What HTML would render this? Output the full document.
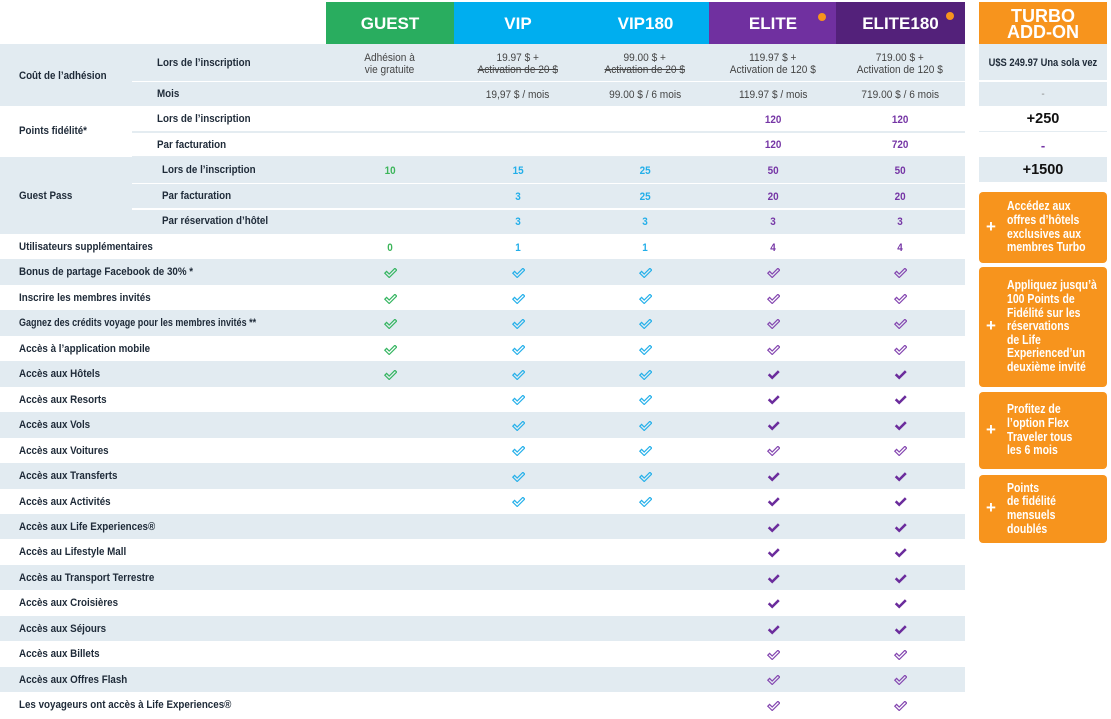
<!DOCTYPE html>
<html>
<head>
<meta charset="utf-8">
<style>
*{box-sizing:border-box}
body{margin:0;width:1111px;height:717px;overflow:hidden;background:#fff;font-family:"Liberation Sans",sans-serif;position:relative}
.a{position:absolute}
.sh{background:#e2ebf1}
.row{position:absolute;left:0;width:965px;height:25.5px}
.lb{position:absolute;left:19px;top:1px;line-height:25.5px;font-size:11px;font-weight:bold;color:#1e2a38;white-space:nowrap;transform:scaleX(.89);transform-origin:0 50%}
.sl{position:absolute;font-size:11px;font-weight:bold;color:#1e2a38;white-space:nowrap;transform:scaleX(.89);transform-origin:0 50%;margin-top:1px}
.c{position:absolute;top:0;height:100%;width:128px;display:flex;align-items:center;justify-content:center;padding-top:2px}
.c1{left:326px}.c2{left:454px}.c3{left:581px}.c4{left:709px}.c5{left:836px}
.n{font-weight:bold;font-size:11px;transform:scaleX(.9)}
.ng{color:#3cb55a}.nb{color:#22aee9}.np{color:#7535a5}
.v{font-size:11px;color:#444;line-height:12px;text-align:center;white-space:nowrap;transform:scaleX(.92)}
.st{text-decoration:line-through}
svg{display:block}
svg.g path{fill:none;stroke:#35b561;stroke-width:1.2}
svg.b path{fill:none;stroke:#25b0ea;stroke-width:1.2}
svg.p path{fill:none;stroke:#8446b0;stroke-width:1.2}
svg.f path{fill:#6b2c9c}
.h{position:absolute;top:2px;height:42px;width:128px;color:#fff;font-weight:bold;font-size:17px;display:flex;align-items:center;justify-content:center;padding-top:1px}
.dot{position:absolute;width:8px;height:8px;border-radius:50%;background:#f7941d}
.tc{position:absolute;left:979px;width:128px;display:flex;align-items:center;justify-content:center;padding-top:1px}
.tb{position:absolute;left:979px;width:128px;background:#f7941d;border-radius:4px;color:#fff;display:flex;align-items:center}
.tb .pl{position:absolute;left:7px;font-size:17px;font-weight:bold;top:50%;margin-top:-11px;line-height:20px}
.tb .tx{position:absolute;left:28px;font-size:12.5px;font-weight:bold;line-height:13.6px;white-space:nowrap;transform:scaleX(.84);transform-origin:0 50%}
.line{position:absolute;left:132px;width:833px}
</style>
</head>
<body>

<!-- headers -->
<div class="h" style="left:326px;background:#29ad5f">GUEST</div>
<div class="h" style="left:454px;background:#00aeef">VIP</div>
<div class="h" style="left:581px;width:129px;background:#00aeef">VIP180</div>
<div class="h" style="left:709px;background:#7030a0">ELITE</div>
<div class="h" style="left:836px;width:129px;background:#53217a">ELITE180</div>
<div class="dot" style="left:818px;top:13px"></div>
<div class="dot" style="left:946px;top:12px"></div>
<div class="h" style="left:979px;background:#f7941d;font-size:18px;line-height:16px;text-align:center">TURBO<br>ADD-ON</div>

<!-- Coût de l'adhésion -->
<div class="a sh" style="left:0;top:44px;width:965px;height:62px"></div>
<div class="line" style="top:80.5px;height:1.5px;background:#fff"></div>
<div class="sl" style="left:19px;top:69px">Coût de l’adhésion</div>
<div class="sl" style="left:157px;top:56px">Lors de l’inscription</div>
<div class="sl" style="left:157px;top:87px">Mois</div>
<div class="a" style="left:0;top:44px;width:965px;height:37px">
  <div class="c c1"><div class="v">Adhésion à<br>vie gratuite</div></div>
  <div class="c c2"><div class="v">19.97 $ +<br><span class="st">Activation de 20 $</span></div></div>
  <div class="c c3"><div class="v">99.00 $ +<br><span class="st">Activation de 20 $</span></div></div>
  <div class="c c4"><div class="v">119.97 $ +<br>Activation de 120 $</div></div>
  <div class="c c5"><div class="v">719.00 $ +<br>Activation de 120 $</div></div>
</div>
<div class="a" style="left:0;top:81px;width:965px;height:25px">
  <div class="c c2"><div class="v">19,97 $ / mois</div></div>
  <div class="c c3"><div class="v">99.00 $ / 6 mois</div></div>
  <div class="c c4"><div class="v">119.97 $ / mois</div></div>
  <div class="c c5"><div class="v">719.00 $ / 6 mois</div></div>
</div>

<!-- Points fidélité -->
<div class="line" style="top:131px;height:1.5px;background:#e4ecf1"></div>
<div class="line" style="top:156px;height:1px;background:#e4ecf1"></div>
<div class="sl" style="left:19px;top:124px">Points fidélité*</div>
<div class="sl" style="left:157px;top:112px">Lors de l’inscription</div>
<div class="sl" style="left:157px;top:138px">Par facturation</div>
<div class="a" style="left:0;top:106px;width:965px;height:25.5px">
  <div class="c c4"><span class="n np">120</span></div>
  <div class="c c5"><span class="n np">120</span></div>
</div>
<div class="a" style="left:0;top:131.5px;width:965px;height:25.5px">
  <div class="c c4"><span class="n np">120</span></div>
  <div class="c c5"><span class="n np">720</span></div>
</div>

<!-- Guest Pass -->
<div class="a sh" style="left:0;top:157px;width:965px;height:77px"></div>
<div class="line" style="top:182.5px;height:1.5px;background:#fff"></div>
<div class="line" style="top:208px;height:1.5px;background:#fff"></div>
<div class="sl" style="left:19px;top:189px">Guest Pass</div>
<div class="sl" style="left:162px;top:163px">Lors de l’inscription</div>
<div class="sl" style="left:162px;top:189px">Par facturation</div>
<div class="sl" style="left:162px;top:214px">Par réservation d’hôtel</div>
<div class="a" style="left:0;top:157px;width:965px;height:25.5px">
  <div class="c c1"><span class="n ng">10</span></div>
  <div class="c c2"><span class="n nb">15</span></div>
  <div class="c c3"><span class="n nb">25</span></div>
  <div class="c c4"><span class="n np">50</span></div>
  <div class="c c5"><span class="n np">50</span></div>
</div>
<div class="a" style="left:0;top:183px;width:965px;height:25.5px">
  <div class="c c2"><span class="n nb">3</span></div>
  <div class="c c3"><span class="n nb">25</span></div>
  <div class="c c4"><span class="n np">20</span></div>
  <div class="c c5"><span class="n np">20</span></div>
</div>
<div class="a" style="left:0;top:208.5px;width:965px;height:25.5px">
  <div class="c c2"><span class="n nb">3</span></div>
  <div class="c c3"><span class="n nb">3</span></div>
  <div class="c c4"><span class="n np">3</span></div>
  <div class="c c5"><span class="n np">3</span></div>
</div>

<!-- single rows -->
<div class="row" style="top:234px"><div class="lb">Utilisateurs supplémentaires</div>
  <div class="c c1"><span class="n ng">0</span></div>
  <div class="c c2"><span class="n nb">1</span></div>
  <div class="c c3"><span class="n nb">1</span></div>
  <div class="c c4"><span class="n np">4</span></div>
  <div class="c c5"><span class="n np">4</span></div>
</div>

<div class="row sh" style="top:259.45px"><div class="lb">Bonus de partage Facebook de 30% *</div>
  <div class="c c1"><svg class="g" width="13" height="10" viewBox="0 0 13 10"><path d="M.8 5.2 2.6 3.4 5.2 6 10.9.3 12.7 2.1 5.2 9.5Z"/></svg></div>
  <div class="c c2"><svg class="b" width="13" height="10" viewBox="0 0 13 10"><path d="M.8 5.2 2.6 3.4 5.2 6 10.9.3 12.7 2.1 5.2 9.5Z"/></svg></div>
  <div class="c c3"><svg class="b" width="13" height="10" viewBox="0 0 13 10"><path d="M.8 5.2 2.6 3.4 5.2 6 10.9.3 12.7 2.1 5.2 9.5Z"/></svg></div>
  <div class="c c4"><svg class="p" width="13" height="10" viewBox="0 0 13 10"><path d="M.8 5.2 2.6 3.4 5.2 6 10.9.3 12.7 2.1 5.2 9.5Z"/></svg></div>
  <div class="c c5"><svg class="p" width="13" height="10" viewBox="0 0 13 10"><path d="M.8 5.2 2.6 3.4 5.2 6 10.9.3 12.7 2.1 5.2 9.5Z"/></svg></div>
</div>

<div class="row" style="top:284.9px"><div class="lb">Inscrire les membres invités</div>
  <div class="c c1"><svg class="g" width="13" height="10" viewBox="0 0 13 10"><path d="M.8 5.2 2.6 3.4 5.2 6 10.9.3 12.7 2.1 5.2 9.5Z"/></svg></div>
  <div class="c c2"><svg class="b" width="13" height="10" viewBox="0 0 13 10"><path d="M.8 5.2 2.6 3.4 5.2 6 10.9.3 12.7 2.1 5.2 9.5Z"/></svg></div>
  <div class="c c3"><svg class="b" width="13" height="10" viewBox="0 0 13 10"><path d="M.8 5.2 2.6 3.4 5.2 6 10.9.3 12.7 2.1 5.2 9.5Z"/></svg></div>
  <div class="c c4"><svg class="p" width="13" height="10" viewBox="0 0 13 10"><path d="M.8 5.2 2.6 3.4 5.2 6 10.9.3 12.7 2.1 5.2 9.5Z"/></svg></div>
  <div class="c c5"><svg class="p" width="13" height="10" viewBox="0 0 13 10"><path d="M.8 5.2 2.6 3.4 5.2 6 10.9.3 12.7 2.1 5.2 9.5Z"/></svg></div>
</div>

<div class="row sh" style="top:310.35px"><div class="lb" style="transform:scaleX(.82)">Gagnez des crédits voyage pour les membres invités **</div>
  <div class="c c1"><svg class="g" width="13" height="10" viewBox="0 0 13 10"><path d="M.8 5.2 2.6 3.4 5.2 6 10.9.3 12.7 2.1 5.2 9.5Z"/></svg></div>
  <div class="c c2"><svg class="b" width="13" height="10" viewBox="0 0 13 10"><path d="M.8 5.2 2.6 3.4 5.2 6 10.9.3 12.7 2.1 5.2 9.5Z"/></svg></div>
  <div class="c c3"><svg class="b" width="13" height="10" viewBox="0 0 13 10"><path d="M.8 5.2 2.6 3.4 5.2 6 10.9.3 12.7 2.1 5.2 9.5Z"/></svg></div>
  <div class="c c4"><svg class="p" width="13" height="10" viewBox="0 0 13 10"><path d="M.8 5.2 2.6 3.4 5.2 6 10.9.3 12.7 2.1 5.2 9.5Z"/></svg></div>
  <div class="c c5"><svg class="p" width="13" height="10" viewBox="0 0 13 10"><path d="M.8 5.2 2.6 3.4 5.2 6 10.9.3 12.7 2.1 5.2 9.5Z"/></svg></div>
</div>

<div class="row" style="top:335.8px"><div class="lb">Accès à l’application mobile</div>
  <div class="c c1"><svg class="g" width="13" height="10" viewBox="0 0 13 10"><path d="M.8 5.2 2.6 3.4 5.2 6 10.9.3 12.7 2.1 5.2 9.5Z"/></svg></div>
  <div class="c c2"><svg class="b" width="13" height="10" viewBox="0 0 13 10"><path d="M.8 5.2 2.6 3.4 5.2 6 10.9.3 12.7 2.1 5.2 9.5Z"/></svg></div>
  <div class="c c3"><svg class="b" width="13" height="10" viewBox="0 0 13 10"><path d="M.8 5.2 2.6 3.4 5.2 6 10.9.3 12.7 2.1 5.2 9.5Z"/></svg></div>
  <div class="c c4"><svg class="p" width="13" height="10" viewBox="0 0 13 10"><path d="M.8 5.2 2.6 3.4 5.2 6 10.9.3 12.7 2.1 5.2 9.5Z"/></svg></div>
  <div class="c c5"><svg class="p" width="13" height="10" viewBox="0 0 13 10"><path d="M.8 5.2 2.6 3.4 5.2 6 10.9.3 12.7 2.1 5.2 9.5Z"/></svg></div>
</div>

<div class="row sh" style="top:361.25px"><div class="lb">Accès aux Hôtels</div>
  <div class="c c1"><svg class="g" width="13" height="10" viewBox="0 0 13 10"><path d="M.8 5.2 2.6 3.4 5.2 6 10.9.3 12.7 2.1 5.2 9.5Z"/></svg></div>
  <div class="c c2"><svg class="b" width="13" height="10" viewBox="0 0 13 10"><path d="M.8 5.2 2.6 3.4 5.2 6 10.9.3 12.7 2.1 5.2 9.5Z"/></svg></div>
  <div class="c c3"><svg class="b" width="13" height="10" viewBox="0 0 13 10"><path d="M.8 5.2 2.6 3.4 5.2 6 10.9.3 12.7 2.1 5.2 9.5Z"/></svg></div>
  <div class="c c4"><svg class="f" width="13" height="10" viewBox="0 0 13 10"><path d="M.8 5.2 2.6 3.4 5.2 6 10.9.3 12.7 2.1 5.2 9.5Z"/></svg></div>
  <div class="c c5"><svg class="f" width="13" height="10" viewBox="0 0 13 10"><path d="M.8 5.2 2.6 3.4 5.2 6 10.9.3 12.7 2.1 5.2 9.5Z"/></svg></div>
</div>

<div class="row" style="top:386.7px"><div class="lb">Accès aux Resorts</div>
  <div class="c c2"><svg class="b" width="13" height="10" viewBox="0 0 13 10"><path d="M.8 5.2 2.6 3.4 5.2 6 10.9.3 12.7 2.1 5.2 9.5Z"/></svg></div>
  <div class="c c3"><svg class="b" width="13" height="10" viewBox="0 0 13 10"><path d="M.8 5.2 2.6 3.4 5.2 6 10.9.3 12.7 2.1 5.2 9.5Z"/></svg></div>
  <div class="c c4"><svg class="f" width="13" height="10" viewBox="0 0 13 10"><path d="M.8 5.2 2.6 3.4 5.2 6 10.9.3 12.7 2.1 5.2 9.5Z"/></svg></div>
  <div class="c c5"><svg class="f" width="13" height="10" viewBox="0 0 13 10"><path d="M.8 5.2 2.6 3.4 5.2 6 10.9.3 12.7 2.1 5.2 9.5Z"/></svg></div>
</div>

<div class="row sh" style="top:412.15px"><div class="lb">Accès aux Vols</div>
  <div class="c c2"><svg class="b" width="13" height="10" viewBox="0 0 13 10"><path d="M.8 5.2 2.6 3.4 5.2 6 10.9.3 12.7 2.1 5.2 9.5Z"/></svg></div>
  <div class="c c3"><svg class="b" width="13" height="10" viewBox="0 0 13 10"><path d="M.8 5.2 2.6 3.4 5.2 6 10.9.3 12.7 2.1 5.2 9.5Z"/></svg></div>
  <div class="c c4"><svg class="f" width="13" height="10" viewBox="0 0 13 10"><path d="M.8 5.2 2.6 3.4 5.2 6 10.9.3 12.7 2.1 5.2 9.5Z"/></svg></div>
  <div class="c c5"><svg class="f" width="13" height="10" viewBox="0 0 13 10"><path d="M.8 5.2 2.6 3.4 5.2 6 10.9.3 12.7 2.1 5.2 9.5Z"/></svg></div>
</div>

<div class="row" style="top:437.6px"><div class="lb">Accès aux Voitures</div>
  <div class="c c2"><svg class="b" width="13" height="10" viewBox="0 0 13 10"><path d="M.8 5.2 2.6 3.4 5.2 6 10.9.3 12.7 2.1 5.2 9.5Z"/></svg></div>
  <div class="c c3"><svg class="b" width="13" height="10" viewBox="0 0 13 10"><path d="M.8 5.2 2.6 3.4 5.2 6 10.9.3 12.7 2.1 5.2 9.5Z"/></svg></div>
  <div class="c c4"><svg class="p" width="13" height="10" viewBox="0 0 13 10"><path d="M.8 5.2 2.6 3.4 5.2 6 10.9.3 12.7 2.1 5.2 9.5Z"/></svg></div>
  <div class="c c5"><svg class="p" width="13" height="10" viewBox="0 0 13 10"><path d="M.8 5.2 2.6 3.4 5.2 6 10.9.3 12.7 2.1 5.2 9.5Z"/></svg></div>
</div>

<div class="row sh" style="top:463.05px"><div class="lb">Accès aux Transferts</div>
  <div class="c c2"><svg class="b" width="13" height="10" viewBox="0 0 13 10"><path d="M.8 5.2 2.6 3.4 5.2 6 10.9.3 12.7 2.1 5.2 9.5Z"/></svg></div>
  <div class="c c3"><svg class="b" width="13" height="10" viewBox="0 0 13 10"><path d="M.8 5.2 2.6 3.4 5.2 6 10.9.3 12.7 2.1 5.2 9.5Z"/></svg></div>
  <div class="c c4"><svg class="f" width="13" height="10" viewBox="0 0 13 10"><path d="M.8 5.2 2.6 3.4 5.2 6 10.9.3 12.7 2.1 5.2 9.5Z"/></svg></div>
  <div class="c c5"><svg class="f" width="13" height="10" viewBox="0 0 13 10"><path d="M.8 5.2 2.6 3.4 5.2 6 10.9.3 12.7 2.1 5.2 9.5Z"/></svg></div>
</div>

<div class="row" style="top:488.5px"><div class="lb">Accès aux Activités</div>
  <div class="c c2"><svg class="b" width="13" height="10" viewBox="0 0 13 10"><path d="M.8 5.2 2.6 3.4 5.2 6 10.9.3 12.7 2.1 5.2 9.5Z"/></svg></div>
  <div class="c c3"><svg class="b" width="13" height="10" viewBox="0 0 13 10"><path d="M.8 5.2 2.6 3.4 5.2 6 10.9.3 12.7 2.1 5.2 9.5Z"/></svg></div>
  <div class="c c4"><svg class="f" width="13" height="10" viewBox="0 0 13 10"><path d="M.8 5.2 2.6 3.4 5.2 6 10.9.3 12.7 2.1 5.2 9.5Z"/></svg></div>
  <div class="c c5"><svg class="f" width="13" height="10" viewBox="0 0 13 10"><path d="M.8 5.2 2.6 3.4 5.2 6 10.9.3 12.7 2.1 5.2 9.5Z"/></svg></div>
</div>

<div class="row sh" style="top:513.95px"><div class="lb">Accès aux Life Experiences®</div>
  <div class="c c4"><svg class="f" width="13" height="10" viewBox="0 0 13 10"><path d="M.8 5.2 2.6 3.4 5.2 6 10.9.3 12.7 2.1 5.2 9.5Z"/></svg></div>
  <div class="c c5"><svg class="f" width="13" height="10" viewBox="0 0 13 10"><path d="M.8 5.2 2.6 3.4 5.2 6 10.9.3 12.7 2.1 5.2 9.5Z"/></svg></div>
</div>

<div class="row" style="top:539.4px"><div class="lb">Accès au Lifestyle Mall</div>
  <div class="c c4"><svg class="f" width="13" height="10" viewBox="0 0 13 10"><path d="M.8 5.2 2.6 3.4 5.2 6 10.9.3 12.7 2.1 5.2 9.5Z"/></svg></div>
  <div class="c c5"><svg class="f" width="13" height="10" viewBox="0 0 13 10"><path d="M.8 5.2 2.6 3.4 5.2 6 10.9.3 12.7 2.1 5.2 9.5Z"/></svg></div>
</div>

<div class="row sh" style="top:564.85px"><div class="lb">Accès au Transport Terrestre</div>
  <div class="c c4"><svg class="f" width="13" height="10" viewBox="0 0 13 10"><path d="M.8 5.2 2.6 3.4 5.2 6 10.9.3 12.7 2.1 5.2 9.5Z"/></svg></div>
  <div class="c c5"><svg class="f" width="13" height="10" viewBox="0 0 13 10"><path d="M.8 5.2 2.6 3.4 5.2 6 10.9.3 12.7 2.1 5.2 9.5Z"/></svg></div>
</div>

<div class="row" style="top:590.3px"><div class="lb">Accès aux Croisières</div>
  <div class="c c4"><svg class="f" width="13" height="10" viewBox="0 0 13 10"><path d="M.8 5.2 2.6 3.4 5.2 6 10.9.3 12.7 2.1 5.2 9.5Z"/></svg></div>
  <div class="c c5"><svg class="f" width="13" height="10" viewBox="0 0 13 10"><path d="M.8 5.2 2.6 3.4 5.2 6 10.9.3 12.7 2.1 5.2 9.5Z"/></svg></div>
</div>

<div class="row sh" style="top:615.75px"><div class="lb">Accès aux Séjours</div>
  <div class="c c4"><svg class="f" width="13" height="10" viewBox="0 0 13 10"><path d="M.8 5.2 2.6 3.4 5.2 6 10.9.3 12.7 2.1 5.2 9.5Z"/></svg></div>
  <div class="c c5"><svg class="f" width="13" height="10" viewBox="0 0 13 10"><path d="M.8 5.2 2.6 3.4 5.2 6 10.9.3 12.7 2.1 5.2 9.5Z"/></svg></div>
</div>

<div class="row" style="top:641.2px"><div class="lb">Accès aux Billets</div>
  <div class="c c4"><svg class="p" width="13" height="10" viewBox="0 0 13 10"><path d="M.8 5.2 2.6 3.4 5.2 6 10.9.3 12.7 2.1 5.2 9.5Z"/></svg></div>
  <div class="c c5"><svg class="p" width="13" height="10" viewBox="0 0 13 10"><path d="M.8 5.2 2.6 3.4 5.2 6 10.9.3 12.7 2.1 5.2 9.5Z"/></svg></div>
</div>

<div class="row sh" style="top:666.65px"><div class="lb">Accès aux Offres Flash</div>
  <div class="c c4"><svg class="p" width="13" height="10" viewBox="0 0 13 10"><path d="M.8 5.2 2.6 3.4 5.2 6 10.9.3 12.7 2.1 5.2 9.5Z"/></svg></div>
  <div class="c c5"><svg class="p" width="13" height="10" viewBox="0 0 13 10"><path d="M.8 5.2 2.6 3.4 5.2 6 10.9.3 12.7 2.1 5.2 9.5Z"/></svg></div>
</div>

<div class="row" style="top:692.1px"><div class="lb">Les voyageurs ont accès à Life Experiences®</div>
  <div class="c c4"><svg class="p" width="13" height="10" viewBox="0 0 13 10"><path d="M.8 5.2 2.6 3.4 5.2 6 10.9.3 12.7 2.1 5.2 9.5Z"/></svg></div>
  <div class="c c5"><svg class="p" width="13" height="10" viewBox="0 0 13 10"><path d="M.8 5.2 2.6 3.4 5.2 6 10.9.3 12.7 2.1 5.2 9.5Z"/></svg></div>
</div>

<!-- Turbo column cells -->
<div class="tc sh" style="top:44px;height:36px"><span style="font-size:11px;font-weight:bold;color:#1e2a38;white-space:nowrap;transform:scaleX(.85)">U$S 249.97 Una sola vez</span></div>
<div class="tc sh" style="top:81.5px;height:24.5px"><span style="font-size:10px;color:#888">-</span></div>
<div class="tc" style="top:106px;height:25px"><span style="font-size:14.5px;font-weight:bold;color:#111">+250</span></div>
<div class="a" style="left:979px;top:130.5px;width:128px;height:1.5px;background:#e4ecf1"></div>
<div class="tc" style="top:132px;height:25px"><span style="font-size:13px;font-weight:bold;color:#7535a5">-</span></div>
<div class="tc sh" style="top:157px;height:25px"><span style="font-size:14.5px;font-weight:bold;color:#111">+1500</span></div>

<!-- Turbo boxes -->
<div class="tb" style="top:192px;height:71px"><span class="pl">+</span><div class="tx">Accédez aux<br>offres d’hôtels<br>exclusives aux<br>membres Turbo</div></div>
<div class="tb" style="top:267px;height:120px"><span class="pl">+</span><div class="tx">Appliquez jusqu’à<br>100 Points de<br>Fidélité sur les<br>réservations<br>de Life<br>Experienced’un<br>deuxième invité</div></div>
<div class="tb" style="top:392px;height:77px"><span class="pl">+</span><div class="tx">Profitez de<br>l’option Flex<br>Traveler tous<br>les 6 mois</div></div>
<div class="tb" style="top:475px;height:68px"><span class="pl">+</span><div class="tx">Points<br>de fidélité<br>mensuels<br>doublés</div></div>

</body>
</html>
